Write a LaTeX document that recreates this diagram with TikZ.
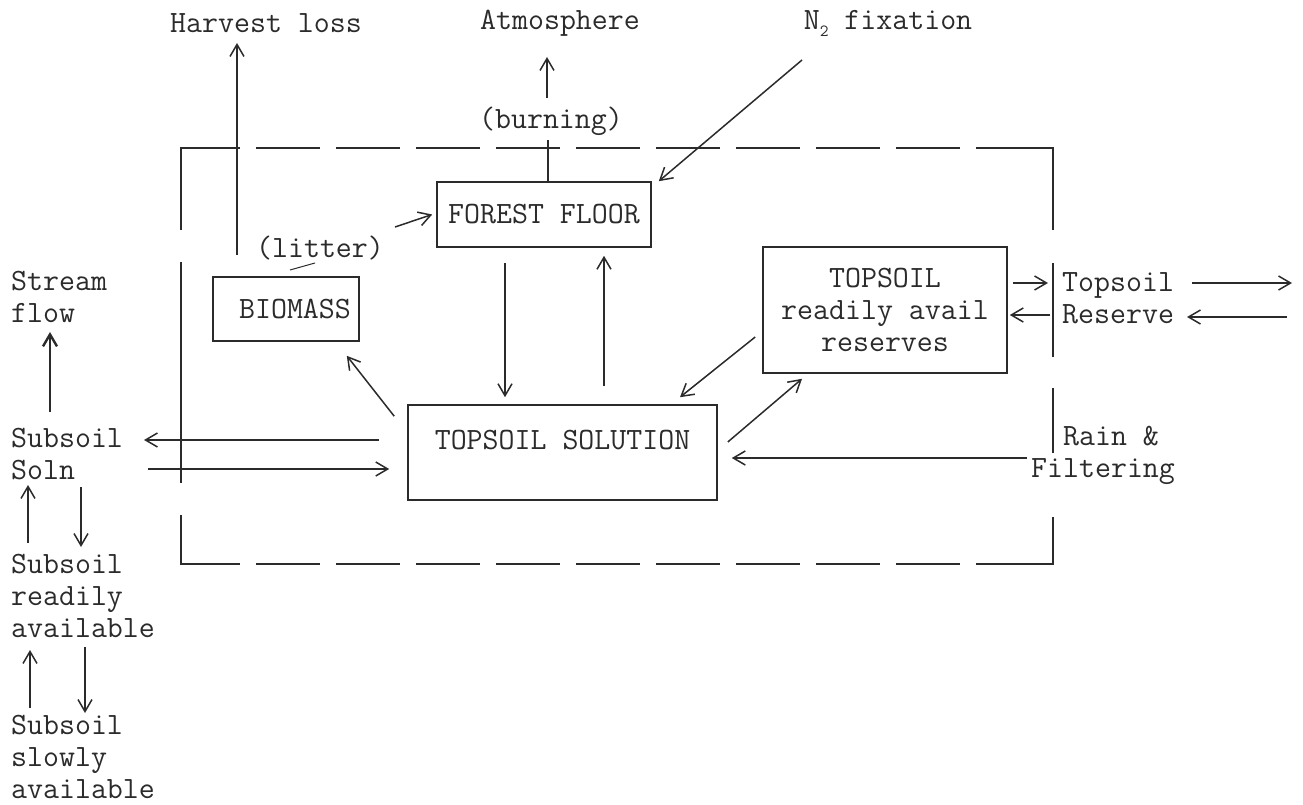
\documentclass[tikz,border=0pt]{standalone}
\usepackage{fontspec}
\usetikzlibrary{arrows.meta,calc}
\definecolor{ink}{HTML}{2B2B2B}
\begin{document}
\begin{tikzpicture}[x=1pt,y=1pt,
  lbl/.style={font=\ttfamily\fontsize{31}{32}\selectfont\addfontfeature{FakeBold=1}, text=ink, inner sep=0pt},
  box/.style={draw=ink, line width=1.6pt},
  arr/.style={draw=ink, line width=1.5pt, -{Straight Barb[length=12pt,width=14pt]}},
  frame/.style={draw=ink, line width=1.6pt},
  dashedframe/.style={frame, dash pattern=on 64pt off 16pt},
  plainline/.style={draw=ink, line width=1.5pt}]
\useasboundingbox (0,0) rectangle (1303,804);

% boxes
\node[lbl, box, minimum width=214pt, minimum height=65pt] (ff) at (544,589.5) {FOREST FLOOR};
\node[lbl, box, minimum width=146pt, minimum height=64pt] (bio) at (286,495) {\hspace{18pt}BIOMASS};
\node[lbl, box, align=center, minimum width=244pt, minimum height=126pt] (tr) at (885,494) {TOPSOIL\\readily avail\\reserves};
\node[lbl, box, minimum width=309pt, minimum height=95pt,
      label={[lbl, yshift=12pt]center:TOPSOIL SOLUTION}] (sol) at (562.5,351.5) {};

% outside labels
\node[lbl] (harv) at (266,781) {Harvest loss};
\node[lbl] (atm) at (560,781) {Atmosphere};
\node[lbl] (n2) at (888,781) {N\raisebox{-7pt}{\fontsize{17}{17}\selectfont 2} fixation};
\node[lbl] (burn) at (551,683) {(burning)};
\node[lbl] (litter) at (320,556) {(litter)};
\node[lbl, anchor=west, align=left] (stream) at (11,507) {Stream\\flow};
\node[lbl, anchor=west, align=left] (ssoln) at (11,350) {Subsoil\\Soln};
\node[lbl, anchor=west, align=left] (sread) at (11,208) {Subsoil\\readily\\available};
\node[lbl, anchor=west, align=left] (sslow) at (11,47) {Subsoil\\slowly\\available};
\node[lbl, anchor=west, align=left] (tres) at (1062,506) {Topsoil\\Reserve};
\node[lbl, anchor=west, align=left] (rain) at (1031,349) {\hphantom{Fi}Rain \&\\Filtering};

% dashed boundary
\draw[frame] (181,289) -- (181,240) -- (240,240);
\draw[dashedframe] (256,240) -- (968,240);
\draw[frame] (976,240) -- (1053,240) -- (1053,287);
\draw[frame] (181,321) -- (181,542);
\draw[frame] (181,574) -- (181,656) -- (240,656);
\draw[dashedframe] (256,656) -- (968,656);
\draw[frame] (976,656) -- (1053,656) -- (1053,574);
\draw[frame] (1053,541) -- (1053,447);
\draw[frame] (1053,416) -- (1053,351);

% free ends
\coordinate (hfrom) at (237,549);
\coordinate (hto) at (237,761);
\coordinate (afrom) at (547,706);
\coordinate (ato) at (547,747);
\coordinate (bto) at (548,664);
\coordinate (nfrom) at (802,744);
\coordinate (lfrom) at (395,577);
\coordinate (rsvA) at (1048,521);
\coordinate (rsvB) at (1050,489);
\coordinate (rsvC) at (1192,521);
\coordinate (outA) at (1292,521);
\coordinate (outB) at (1287,487);
\coordinate (rsvD) at (1187,487);
\coordinate (rainA) at (1027,346);
\coordinate (ssA) at (144,364);
\coordinate (ssB) at (148,335);
\coordinate (ssC) at (50,392);
\coordinate (stA) at (50,472);
\coordinate (ss1) at (28,319);
\coordinate (sr1) at (28,261);
\coordinate (ss2) at (81,317);
\coordinate (sr2) at (81,257);
\coordinate (sr3) at (30,154);
\coordinate (sl3) at (30,96);
\coordinate (sr4) at (85,157);
\coordinate (sl4) at (85,91);
\coordinate (tickA) at (290,534);
\coordinate (tickB) at (315,541);

% connectors
\draw[arr] (hfrom) -- (hto);
\draw[arr] (afrom) -- (ato);
\draw[plainline] ([xshift=4pt]ff.north) -- (bto);
\draw[arr] (nfrom) -- ([xshift=7pt]ff.north east);
\draw[arr] (lfrom) -- ([xshift=-4pt]ff.west);
\draw[draw=ink, line width=1pt] (tickA) -- (tickB);
\draw[arr] ([xshift=-39pt,yshift=-15pt]ff.south) -- ([xshift=-57.5pt,yshift=7pt]sol.north);
\draw[arr] ([xshift=41.5pt,yshift=18pt]sol.north) -- ([xshift=60pt,yshift=-8pt]ff.south);
\draw[arr] ([xshift=-13pt,yshift=-12pt]sol.north west) -- ([xshift=-13pt,yshift=-14pt]bio.south east);
\draw[arr] ([xshift=-7pt,yshift=-27pt]tr.west) -- ([xshift=117.5pt,yshift=7pt]sol.north);
\draw[arr] ([xshift=10pt,yshift=10.5pt]sol.east) -- ([xshift=-83pt,yshift=-5pt]tr.south);
\draw[arr] ([xshift=5pt,yshift=27pt]tr.east) -- (rsvA);
\draw[arr] (rsvB) -- ([xshift=2pt,yshift=-5pt]tr.east);
\draw[arr] (rsvC) -- (outA);
\draw[arr] (outB) -- (rsvD);
\draw[arr] (rainA) -- ([xshift=14pt,yshift=-5.5pt]sol.east);
\draw[arr] ([xshift=-28pt,yshift=12.5pt]sol.west) -- (ssA);
\draw[arr] (ssB) -- ([xshift=-18pt,yshift=-16.5pt]sol.west);
\draw[arr, line width=2.4pt] (ssC) -- (stA);
\draw[arr] (sr1) -- (ss1);
\draw[arr] (ss2) -- (sr2);
\draw[arr] (sl3) -- (sr3);
\draw[arr] (sr4) -- (sl4);
\end{tikzpicture}
\end{document}
